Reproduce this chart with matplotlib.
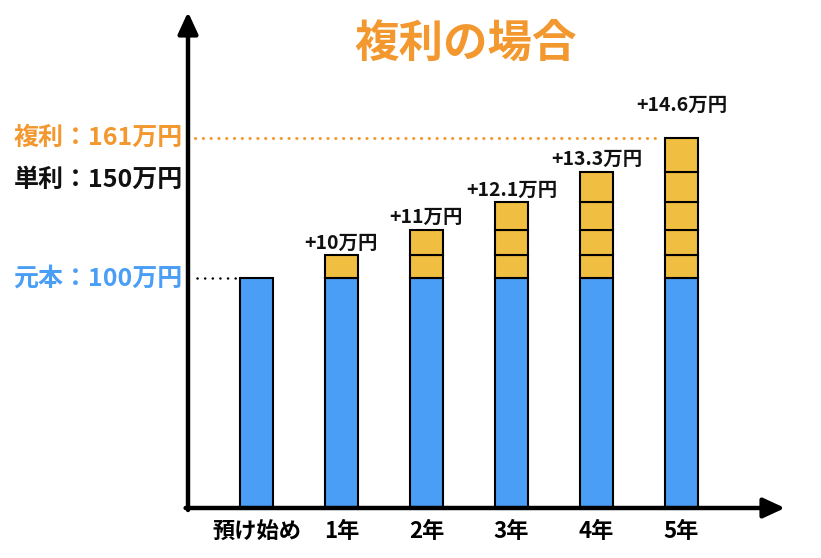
import matplotlib
matplotlib.use('Agg')
import matplotlib.pyplot as plt
import numpy as np

plt.rcParams['font.family'] = ['Noto Sans CJK JP', 'DejaVu Sans']

# ---- data ----
categories = ['預け始め', '1年', '2年', '3年', '4年', '5年']
principal = [100, 100, 100, 100, 100, 100]
interest_steps = [10, 11, 12.1, 13.3, 14.6]
interest_labels = ['+10万円', '+11万円', '+12.1万円', '+13.3万円', '+14.6万円']
compound_total = 161
simple_total = 150
title = '複利の場合'
compound_text = '複利：161万円'
simple_text = '単利：150万円'
principal_text = '元本：100万円'

# ---- style ----
BLUE = '#4A9EF5'
GOLD = '#F0BE40'
ORANGE = '#F2982F'
W = 0.39

fig = plt.figure(figsize=(8.21, 5.58), dpi=100)
ax = fig.add_axes([188/821, (558-508)/558, (785-188)/821, (508-12)/558])
ax.set_xlim(-0.806, 6.218)
ax.set_ylim(0, 216)
for s in ax.spines.values():
    s.set_visible(False)
ax.set_yticks([])

x = np.arange(len(categories))
ax.bar(x, principal, width=W, color=BLUE, edgecolor='black', linewidth=1.5, zorder=3)
for i in range(1, len(categories)):
    bottom = principal[i]
    for j in range(i):
        ax.bar(x[i], interest_steps[j], bottom=bottom, width=W, color=GOLD,
               edgecolor='black', linewidth=1.5, zorder=3)
        bottom += interest_steps[j]
    off = 17 if i == len(categories) - 1 else 2
    ax.annotate(interest_labels[i-1], xy=(x[i], bottom), xytext=(0, off),
                textcoords='offset points', ha='center', va='bottom',
                fontsize=14, fontweight='bold', color='#111111')

ax.set_xticks(x, categories, fontsize=16, fontweight='bold')
ax.tick_params(axis='x', length=0, pad=9)

# axes arrows
arrow = dict(arrowstyle='-|>,head_length=1.3,head_width=0.6', lw=3.2,
             color='black', shrinkA=0, shrinkB=0)
ax.annotate('', xy=(0, 1), xytext=(0, -0.004), xycoords='axes fraction',
            arrowprops=arrow, annotation_clip=False)
ax.annotate('', xy=(1, 0), xytext=(-0.004, 0), xycoords='axes fraction',
            arrowprops=arrow, annotation_clip=False)

# dotted guide lines
ax.plot([-0.72, x[-1] - W/2 - 0.06], [compound_total, compound_total],
        color=ORANGE, lw=2.2, ls=(0, (0.05, 2.5)), dash_capstyle='round', zorder=2)
ax.plot([-0.70, x[0] - W/2], [principal[0], principal[0]],
        color='black', lw=1.8, ls=(0, (0.05, 3.0)), dash_capstyle='round', zorder=2)

# left labels
ax.annotate(compound_text, xy=(0, compound_total), xycoords=('axes fraction', 'data'),
            xytext=(-4, 0), textcoords='offset points', ha='right', va='center',
            fontsize=18, fontweight='bold', color=ORANGE, annotation_clip=False)
ax.annotate(principal_text, xy=(0, principal[0]), xycoords=('axes fraction', 'data'),
            xytext=(-4, 0), textcoords='offset points', ha='right', va='center',
            fontsize=18, fontweight='bold', color=BLUE, annotation_clip=False)
fig.text(183/821, 1 - 180/558, simple_text, ha='right', va='center',
         fontsize=18, fontweight='bold', color='#111111')

fig.text(466/821, 1 - 45/558, title, ha='center', va='center',
         fontsize=32, fontweight='bold', color=ORANGE)

fig.savefig('out.png', dpi=100)
